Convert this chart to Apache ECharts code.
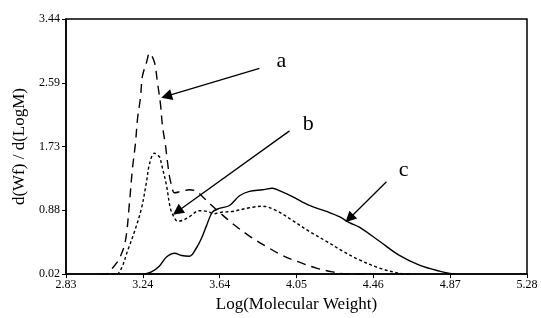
<!DOCTYPE html>
<html>
<head>
<meta charset="utf-8">
<script src="https://cdn.jsdelivr.net/npm/echarts@6/dist/echarts.min.js"></script>
<style>html,body{margin:0;padding:0;background:#fff;}#c{width:541px;height:318px;}</style>
</head>
<body>
<div id="c"></div>
<script>
// Curve a (long dashes)
const aX = [3.008,3.045,3.077,3.114,3.146,3.167,3.183,3.199,3.210,3.226,3.236,3.258,3.274,3.300,3.316,3.332,3.343,3.359,3.369,3.380,3.391,3.407,3.444,3.486,3.523,3.555,3.592,3.645,3.714,3.805,3.895,3.980,4.070,4.160,4.246,4.336,4.44];
const aY = [0.02,0.02,0.10,0.23,0.47,0.97,1.43,1.77,2.10,2.39,2.67,2.86,2.98,2.86,2.59,2.30,2.00,1.74,1.53,1.33,1.21,1.11,1.13,1.15,1.13,1.06,0.97,0.85,0.70,0.53,0.39,0.27,0.18,0.10,0.05,0.02,0.02];
// Curve b (short dashes)
const bX = [3.072,3.098,3.125,3.157,3.194,3.231,3.258,3.274,3.300,3.327,3.337,3.364,3.385,3.407,3.422,3.449,3.486,3.539,3.582,3.619,3.656,3.715,3.805,3.874,3.948,4.033,4.124,4.214,4.299,4.390,4.496,4.602,4.655];
const bY = [0.02,0.02,0.10,0.33,0.59,0.90,1.26,1.50,1.64,1.59,1.50,1.21,0.90,0.77,0.73,0.74,0.79,0.87,0.86,0.83,0.85,0.86,0.91,0.93,0.87,0.74,0.59,0.46,0.33,0.21,0.10,0.03,0.02];
// Curve c (solid)
const cX = [3.247,3.284,3.327,3.364,3.407,3.444,3.486,3.523,3.550,3.577,3.608,3.645,3.699,3.752,3.805,3.874,3.927,3.964,4.033,4.124,4.214,4.283,4.336,4.389,4.496,4.602,4.708,4.815,4.895];
const cY = [0.02,0.05,0.13,0.25,0.30,0.27,0.26,0.37,0.50,0.67,0.85,0.90,0.94,1.07,1.13,1.15,1.17,1.14,1.06,0.94,0.86,0.79,0.71,0.65,0.46,0.27,0.14,0.06,0.02];

const xTickLabels = ['2.83','3.24','3.64','4.05','4.46','4.87','5.28'];
const yTickLabels = ['0.02','0.88','1.73','2.59','3.44'];
const xMin = 2.83, xMax = 5.28, yMin = 0.02, yMax = 3.44;

// Annotations: label, arrow start [x,y], arrow tip [x,y], label position [x,y]
const annNames = ['a','b','c'];
const annStart = [[3.858,2.778],[4.018,1.94],[4.533,1.259]];
const annTip = [[3.364,2.405],[3.422,0.859],[4.336,0.766]];
const annLabel = [[3.975,2.871],[4.118,2.03],[4.625,1.406]];

const xVals = xTickLabels.map((_, i) => xMin + i * (xMax - xMin) / 6);
const yVals = yTickLabels.map((_, i) => yMin + i * (yMax - yMin) / 4);
const nearest = (vals, labels, v) => {
  let bi = 0, bd = Infinity;
  vals.forEach((x, i) => { const d = Math.abs(x - v); if (d < bd) { bd = d; bi = i; } });
  return labels[bi];
};
const zip = (xs, ys) => xs.map((x, i) => [x, ys[i]]);
const font = 'Liberation Serif';

const chart = echarts.init(document.getElementById('c'), null, {renderer: 'canvas'});
chart.setOption({
  animation: false,
  backgroundColor: '#fff',
  grid: {left: 66, right: 14, top: 19, bottom: 42, show: true, borderColor: '#000', borderWidth: 1.5},
  xAxis: {
    type: 'value', min: xMin, max: xMax,
    name: 'Log(Molecular Weight)', nameLocation: 'middle', nameGap: 16,
    nameTextStyle: {fontFamily: font, fontSize: 17, color: '#000'},
    axisLine: {show: true, lineStyle: {color: '#000', width: 1.5}},
    axisTick: {show: true, length: 4, customValues: xVals, lineStyle: {color: '#000'}},
    axisLabel: {customValues: xVals, fontFamily: font, fontSize: 12, color: '#000', margin: 5,
      formatter: v => nearest(xVals, xTickLabels, v)},
    splitLine: {show: false}
  },
  yAxis: {
    type: 'value', min: yMin, max: yMax,
    name: 'd(Wf) / d(LogM)', nameLocation: 'middle', nameGap: 33, nameRotate: 90,
    nameTextStyle: {fontFamily: font, fontSize: 17, color: '#000'},
    axisLine: {show: true, lineStyle: {color: '#000', width: 1.5}},
    axisTick: {show: true, length: 4, customValues: yVals, lineStyle: {color: '#000'}},
    axisLabel: {customValues: yVals, fontFamily: font, fontSize: 12, color: '#000', margin: 6,
      formatter: v => nearest(yVals, yTickLabels, v)},
    splitLine: {show: false}
  },
  series: [
    {type: 'line', name: 'a', data: zip(aX, aY), smooth: 0.35, showSymbol: false,
     lineStyle: {color: '#000', width: 1.4, type: [9, 6]},
     markLine: {silent: true, symbol: ['none', 'triangle'], symbolSize: 11,
       lineStyle: {color: '#000', width: 1.3, type: 'solid'},
       label: {show: false},
       data: annNames.map((n, i) => [{coord: annStart[i]}, {coord: annTip[i]}])},
     markPoint: {silent: true, symbol: 'circle', symbolSize: 0,
       label: {show: true, position: 'inside', fontFamily: font, fontSize: 22, color: '#000',
         formatter: p => p.name},
       data: annNames.map((n, i) => ({name: n, coord: annLabel[i]}))}
    },
    {type: 'line', name: 'b', data: zip(bX, bY), smooth: 0.35, showSymbol: false,
     lineStyle: {color: '#000', width: 1.4, type: [3, 2.5]}},
    {type: 'line', name: 'c', data: zip(cX, cY), smooth: 0.35, showSymbol: false,
     lineStyle: {color: '#000', width: 1.4, type: 'solid'}}
  ]
});
</script>
</body>
</html>
